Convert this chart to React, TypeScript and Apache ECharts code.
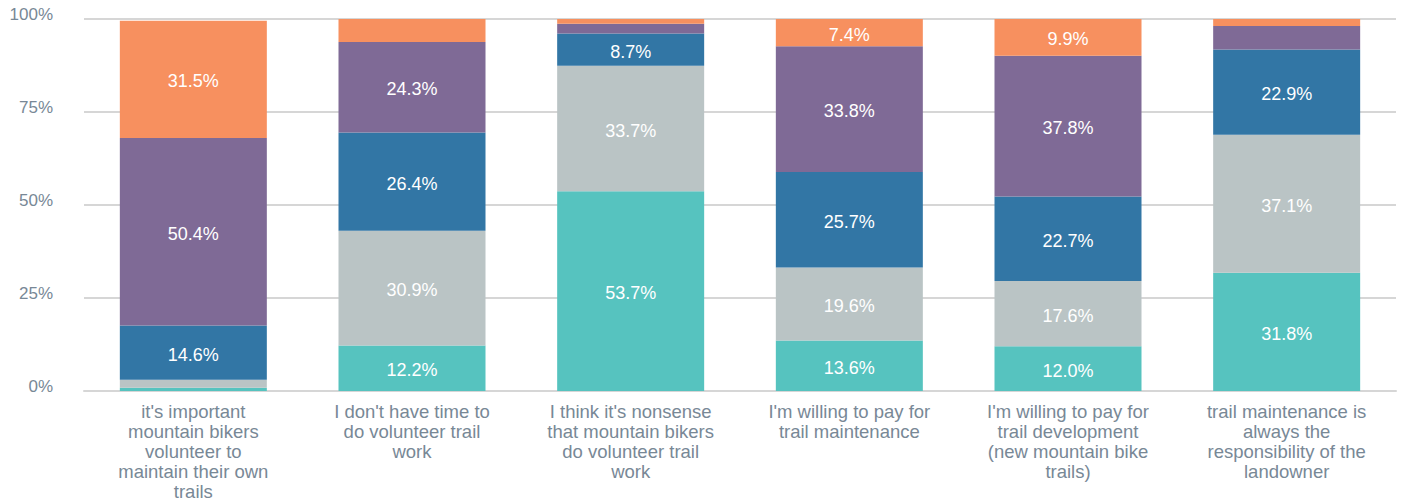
import React, { useEffect, useRef } from "react";
import * as echarts from "echarts";

const categories = [
  "it's important\nmountain bikers\nvolunteer to\nmaintain their own\ntrails",
  "I don't have time to\ndo volunteer trail\nwork",
  "I think it's nonsense\nthat mountain bikers\ndo volunteer trail\nwork",
  "I'm willing to pay for\ntrail maintenance",
  "I'm willing to pay for\ntrail development\n(new mountain bike\ntrails)",
  "trail maintenance is\nalways the\nresponsibility of the\nlandowner",
];

const yTicks = [0, 25, 50, 75, 100];

const seriesNames = ["Level 1", "Level 2", "Level 3", "Level 4", "Level 5"];
const level1 = [0.9, 12.2, 53.7, 13.6, 12.0, 31.8];
const level2 = [2.1, 30.9, 33.7, 19.6, 17.6, 37.1];
const level3 = [14.6, 26.4, 8.7, 25.7, 22.7, 22.9];
const level4 = [50.4, 24.3, 2.6, 33.8, 37.8, 6.3];
const level5 = [31.5, 6.2, 1.3, 7.4, 9.9, 1.9];

const seriesData = [level1, level2, level3, level4, level5];
const colors = ["#56C3BF", "#BAC4C5", "#3276A5", "#7F6A96", "#F7905F"];

export default function App() {
  const ref = useRef<HTMLDivElement>(null);
  useEffect(() => {
    document.body.style.margin = "0";
    if (!ref.current) return;
    const chart = echarts.init(ref.current, null, { renderer: "svg" });
    const font = "'Liberation Sans', Arial, Helvetica, sans-serif";
    chart.setOption({
      animation: false,
      grid: { left: 84, right: 8, top: 19, bottom: 110, containLabel: false },
      xAxis: {
        type: "category",
        data: categories,
        axisLine: { lineStyle: { color: "#D6D6D6", width: 2 } },
        axisTick: { show: false },
        axisLabel: {
          interval: 0,
          color: "#788896",
          fontFamily: font,
          fontSize: 18.5,
          lineHeight: 20,
          margin: 10,
          align: "center",
        },
      },
      yAxis: {
        type: "value",
        min: yTicks[0],
        max: yTicks[yTicks.length - 1],
        interval: 25,
        axisLine: { show: false },
        axisTick: { show: false },
        splitLine: { lineStyle: { color: "#D6D6D6", width: 2 } },
        axisLabel: {
          formatter: "{value}%",
          color: "#788896",
          fontFamily: font,
          fontSize: 17,
          margin: 31,
          verticalAlign: "bottom",
          lineHeight: 10,
        },
      },
      series: seriesData.map((d, i) => ({
        name: seriesNames[i],
        type: "bar",
        stack: "total",
        barWidth: 147,
        data: d,
        itemStyle: { color: colors[i] },
        label: {
          show: true,
          position: "inside",
          offset: [0, 2],
          color: "#FFFFFF",
          fontFamily: font,
          fontSize: 18,
          formatter: (p: any) => (p.value >= 7 ? p.value.toFixed(1) + "%" : ""),
        },
      })),
    });
    return () => chart.dispose();
  }, []);
  return <div ref={ref} style={{ width: 1404, height: 501 }} />;
}
